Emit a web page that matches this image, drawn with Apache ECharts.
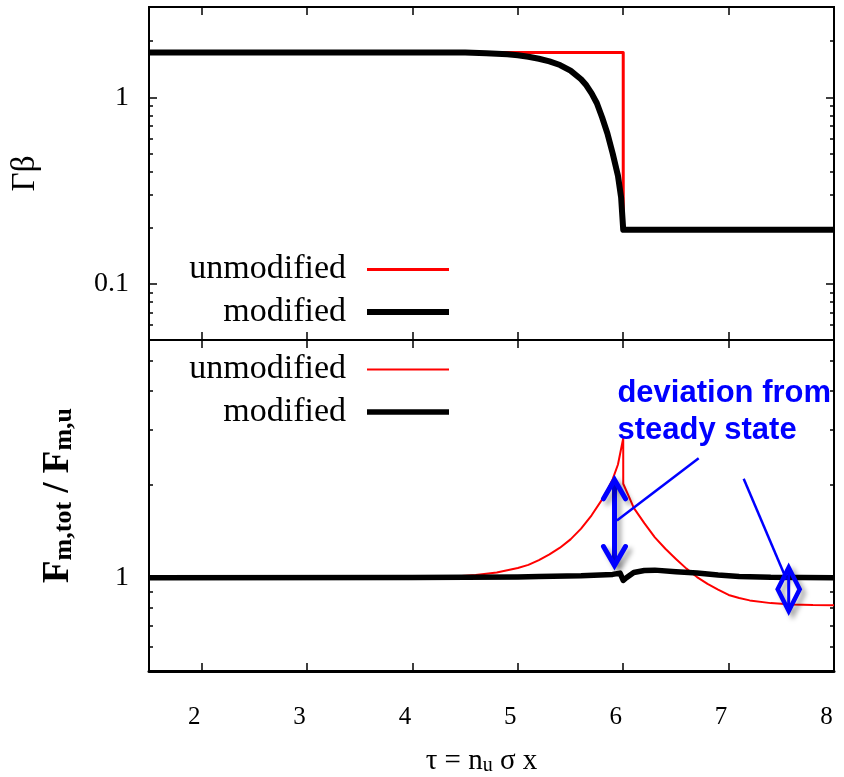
<!DOCTYPE html>
<html><head><meta charset="utf-8">
<script src="https://cdn.jsdelivr.net/npm/echarts@6/dist/echarts.min.js"></script>
<style>html,body{margin:0;padding:0;background:#fff}#c{width:844px;height:777px}</style>
</head><body><div id="c"></div>
<script>
// ---- data ----
const xTicks = [2, 3, 4, 5, 6, 7, 8];
const topMajorTicks = [0.1, 1];
const topMinorTicks = [0.06, 0.07, 0.08, 0.09, 0.2, 0.3, 0.4, 0.5, 0.6, 0.7, 0.8, 0.9, 2];
const botMajorTicks = [1];
const botMinorTicks = [0.6, 0.7, 0.8, 0.9, 2, 3, 4, 5];

const topUnmodified = [[1.5, 1.74], [6.0, 1.74], [6.0, 0.195], [8.0, 0.195]];
const topModified = [[1.5, 1.74], [4.0, 1.74], [4.5, 1.737], [4.7, 1.725], [4.9, 1.70], [5.0, 1.68],
  [5.1, 1.65], [5.2, 1.61], [5.3, 1.56], [5.4, 1.49], [5.5, 1.39], [5.6, 1.25], [5.65, 1.16], [5.7, 1.05],
  [5.75, 0.93], [5.8, 0.78], [5.85, 0.64], [5.9, 0.50], [5.95, 0.38], [5.98, 0.29], [6.0, 0.195],
  [8.0, 0.195]];
const botUnmodified = [[1.5, 1.0], [4.0, 1.0], [4.4, 1.01], [4.6, 1.02], [4.8, 1.04], [5.0, 1.075],
  [5.1, 1.10], [5.2, 1.14], [5.3, 1.19], [5.4, 1.25], [5.5, 1.33], [5.6, 1.44], [5.7, 1.59], [5.8, 1.79],
  [5.85, 1.92], [5.9, 2.08], [5.95, 2.32], [6.0, 2.82], [6.0, 2.01], [6.05, 1.84], [6.1, 1.68],
  [6.2, 1.50], [6.3, 1.35], [6.4, 1.24], [6.5, 1.15], [6.6, 1.07], [6.7, 1.005], [6.8, 0.955],
  [6.9, 0.915], [7.0, 0.88], [7.1, 0.86], [7.2, 0.845], [7.4, 0.828], [7.6, 0.82], [7.8, 0.816], [8.0, 0.815]];
const botModified = [[1.5, 1.0], [4.0, 1.002], [5.0, 1.006], [5.2, 1.01], [5.6, 1.015], [5.9, 1.025],
  [5.97, 1.035], [6.0, 0.98], [6.03, 1.0], [6.1, 1.04], [6.2, 1.055], [6.3, 1.058], [6.5, 1.045],
  [6.7, 1.035], [6.9, 1.02], [7.1, 1.01], [7.4, 1.003], [8.0, 1.0]];
// annotations: [x1, y1, x2, y2, kind]  kind 0 = double arrow, 1 = leader line, 2 = diamond, 3 = text
const annotationShapes = [
  [5.917, 2.07, 5.917, 1.095, 0],
  [6.716, 2.43, 5.94, 1.53, 1],
  [7.143, 2.086, 7.55, 0.985, 1],
  [7.57, 1.079, 7.57, 0.781, 2],
  [5.945, 4.5, 5.945, 4.5, 3]
];
const annotationText = 'deviation from\nsteady state';
const names = ['unmodified', 'modified'];

// ---- chart ----
const serif = 'Liberation Serif';
const chart = echarts.init(document.getElementById('c'));

function xAx(grid, pos, labels, lw) {
  return {
    type: 'value', gridIndex: grid, position: pos, min: 1.5, max: 8,
    axisLine: { show: true, onZero: false, lineStyle: { color: '#000', width: lw } },
    axisTick: { show: true, inside: true, length: 8, customValues: xTicks, lineStyle: { color: '#000', width: 1.5 } },
    axisLabel: { show: labels, customValues: xTicks, margin: 34, color: '#000', fontFamily: serif, fontSize: 25, padding: [0, 15, 0, 0] },
    splitLine: { show: false }
  };
}
function yAx(grid, pos, min, max, ticks, len, labels, extra) {
  return Object.assign({
    type: 'log', logBase: 10, gridIndex: grid, position: pos, min: min, max: max,
    axisLine: { show: true, onZero: false, lineStyle: { color: '#000', width: 2 } },
    axisTick: { show: true, inside: true, length: len, customValues: ticks, lineStyle: { color: '#000', width: 1.5 } },
    axisLabel: { show: labels, customValues: ticks, margin: 20, color: '#000', fontFamily: serif, fontSize: 28,
      formatter: v => String(v) },
    splitLine: { show: false }, minorTick: { show: false }
  }, extra || {});
}

const yNameTop = {
  name: 'Γβ', nameLocation: 'middle', nameRotate: 90, nameGap: 107,
  nameTextStyle: { fontFamily: serif, fontSize: 33, color: '#000' }
};
const yNameBot = {
  name: '{F|F}{s|m,tot}{F| / F}{s|m,u}', nameLocation: 'middle', nameRotate: 90, nameGap: 72,
  nameTextStyle: {
    color: '#000', padding: [0, 0, 0, 20],
    rich: {
      F: { fontFamily: serif, fontSize: 37, fontWeight: 'bold', lineHeight: 37, verticalAlign: 'top', padding: [0, 0, 9, 0] },
      s: { fontFamily: serif, fontSize: 26, fontWeight: 'bold', lineHeight: 26, verticalAlign: 'bottom' }
    }
  }
};
const xName = {
  name: '{a|τ = n}{s|u}{a| σ x}', nameLocation: 'middle', nameGap: 76,
  nameTextStyle: {
    color: '#000', padding: [0, 20, 0, 0],
    rich: {
      a: { fontFamily: serif, fontSize: 29, lineHeight: 29, verticalAlign: 'top', padding: [0, 0, 8, 0] },
      s: { fontFamily: serif, fontSize: 20, lineHeight: 20, verticalAlign: 'bottom' }
    }
  }
};

function legendCfg(top, redW, blackW) {
  return {
    orient: 'vertical', align: 'right', right: 395, top: top, padding: 0,
    itemWidth: 82, itemHeight: 14, itemGap: 8.5, selectedMode: false,
    textStyle: { fontFamily: serif, fontSize: 34, color: '#000', width: 170, lineHeight: 33, padding: [0, 16, 0, 0] },
    data: [
      { name: names[0], icon: 'path://M0,0H82V' + redW + 'H0Z', itemStyle: { color: '#ff0000', borderWidth: 0 } },
      { name: names[1], icon: 'path://M0,0H82V' + blackW + 'H0Z', itemStyle: { color: '#000000', borderWidth: 0 } }
    ]
  };
}

const lineSeries = (name, data, xi, yi, color, w, z) => ({
  type: 'line', name: name, data: data, xAxisIndex: xi, yAxisIndex: yi, symbol: 'none', z: z,
  lineStyle: { color: color, width: w, join: 'round', cap: 'butt' }, itemStyle: { color: color },
  animation: false
});

const blue = '#0000ff';
const shadow = { shadowBlur: 5, shadowColor: 'rgba(0,0,0,0.35)', shadowOffsetX: 4, shadowOffsetY: 4 };

const option = {
  backgroundColor: '#fff',
  animation: false,
  grid: [
    { left: 149, top: 7, width: 685, height: 333, outerBoundsMode: 'none', containLabel: false },
    { left: 149, top: 340, width: 685, height: 331, outerBoundsMode: 'none', containLabel: false }
  ],
  legend: [legendCfg(252.5, 3, 6), legendCfg(352.5, 2, 5.5)],
  xAxis: [
    xAx(0, 'bottom', false, 2), xAx(0, 'top', false, 2),
    Object.assign(xAx(1, 'bottom', true, 3), xName), xAx(1, 'top', false, 2)
  ],
  yAxis: [
    yAx(0, 'left', 0.05, 3.05, topMajorTicks, 8, true, yNameTop),
    yAx(0, 'left', 0.05, 3.05, topMinorTicks, 4, false),
    yAx(0, 'right', 0.05, 3.05, topMajorTicks, 8, false),
    yAx(0, 'right', 0.05, 3.05, topMinorTicks, 4, false),
    yAx(1, 'left', 0.5, 5.85, botMajorTicks, 8, true, yNameBot),
    yAx(1, 'left', 0.5, 5.85, botMinorTicks, 4, false),
    yAx(1, 'right', 0.5, 5.85, botMajorTicks, 8, false),
    yAx(1, 'right', 0.5, 5.85, botMinorTicks, 4, false)
  ],
  series: [
    lineSeries(names[0], topUnmodified, 0, 0, '#ff0000', 3, 2),
    lineSeries(names[1], topModified, 0, 0, '#000000', 6, 3),
    lineSeries(names[0], botUnmodified, 2, 4, '#ff0000', 2, 2),
    lineSeries(names[1], botModified, 2, 4, '#000000', 5.5, 3),
    {
      type: 'custom', xAxisIndex: 2, yAxisIndex: 4, z: 10, silent: true,
      data: annotationShapes,
      renderItem: function (params, api) {
        const kind = api.value(4);
        const p1 = api.coord([api.value(0), api.value(1)]);
        const p2 = api.coord([api.value(2), api.value(3)]);
        if (kind === 0) {
          const x = p1[0];
          return { type: 'group', children: [
            { type: 'line', shape: { x1: x, y1: p1[1] + 2, x2: x, y2: p2[1] - 2 }, style: Object.assign({ stroke: blue, lineWidth: 5 }, shadow) },
            { type: 'polyline', shape: { points: [[x - 11, p1[1] + 19], [x, p1[1]], [x + 11, p1[1] + 19]] }, style: Object.assign({ stroke: blue, fill: null, lineWidth: 5, lineCap: 'round' }, shadow) },
            { type: 'polyline', shape: { points: [[x - 11, p2[1] - 19], [x, p2[1]], [x + 11, p2[1] - 19]] }, style: Object.assign({ stroke: blue, fill: null, lineWidth: 5, lineCap: 'round' }, shadow) }
          ] };
        } else if (kind === 1) {
          return { type: 'line', shape: { x1: p1[0], y1: p1[1], x2: p2[0], y2: p2[1] }, style: { stroke: blue, lineWidth: 2.5 } };
        } else if (kind === 2) {
          const x = p1[0], ym = (p1[1] + p2[1]) / 2;
          return { type: 'group', children: [
            { type: 'polygon', shape: { points: [[x, p1[1]], [x + 11, ym], [x, p2[1]], [x - 11, ym]] }, style: Object.assign({ stroke: blue, fill: null, lineWidth: 4.5 }, shadow) },
            { type: 'line', shape: { x1: x, y1: p1[1] + 3, x2: x, y2: p2[1] - 3 }, style: { stroke: blue, lineWidth: 3 } }
          ] };
        } else {
          return { type: 'text', x: p1[0], y: p1[1], style: {
            text: annotationText, fill: blue, font: 'bold 31px "Liberation Sans"', lineHeight: 37,
            align: 'left', verticalAlign: 'top' } };
        }
      }
    }
  ]
};
chart.setOption(option);
</script></body></html>
